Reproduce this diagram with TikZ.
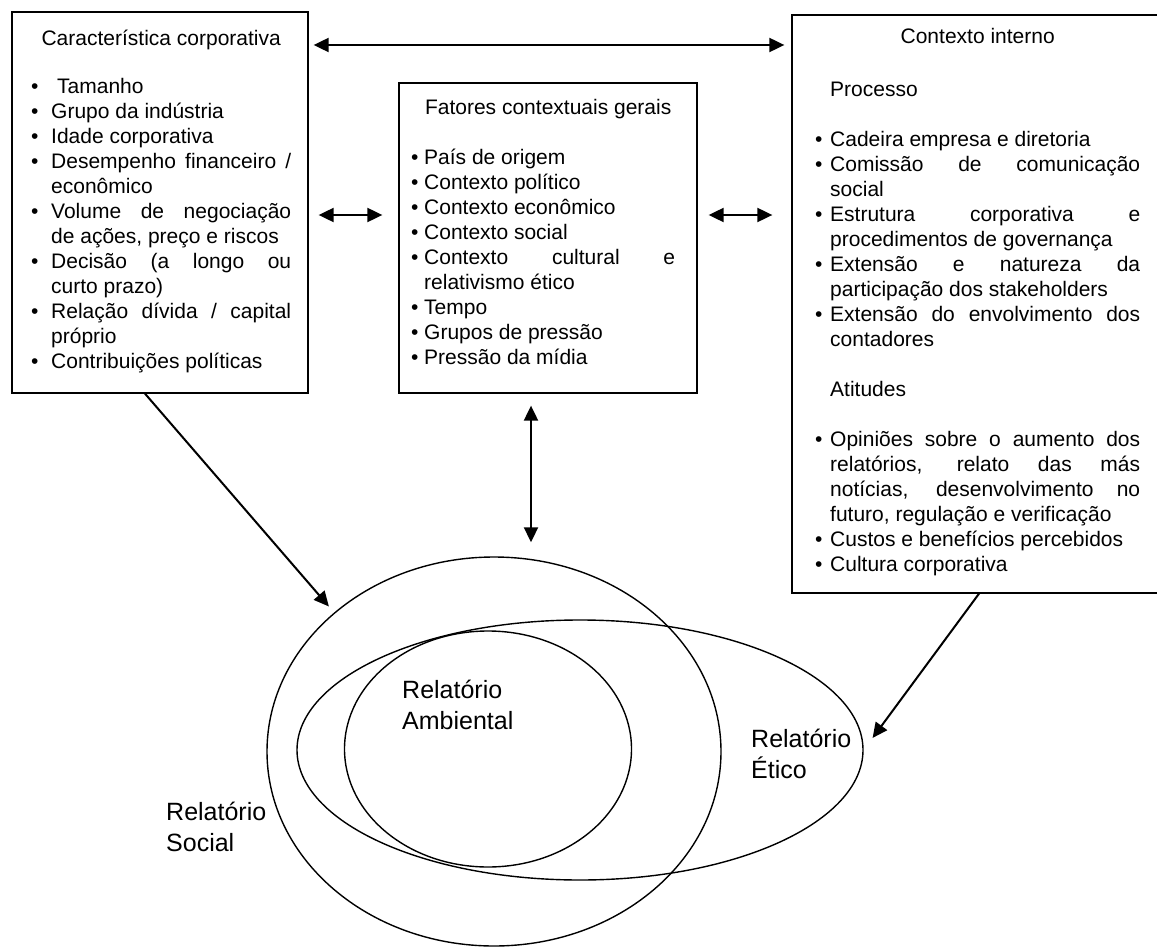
\documentclass[tikz,border=0pt]{standalone}
\usepackage{fontspec}
\setmainfont{Liberation Sans}
\usetikzlibrary{arrows.meta,shapes.geometric}
\newlength\bind
\newlength\tw
\newcommand\bu{\makebox[\bind][l]{\textbullet}}
\newcommand\ct{\hspace*{\bind}}
\newcommand\js[1]{{\spaceskip=0pt\xspaceskip=0pt\makebox[\tw][s]{#1}}}
\begin{document}
\begin{tikzpicture}[x=1pt,y=-1pt,
  box/.style={draw, line width=1.3pt, rectangle, inner sep=0},
  txt/.style={inner sep=0, anchor=base west, align=justify, font=\fontsize{21}{25}\selectfont},
  big/.style={inner sep=0, anchor=base west, text width=140, font=\fontsize{25}{31}\selectfont},
  ell/.style={draw, ellipse, line width=1.4pt, inner sep=0},
  arr/.style={line width=2pt, -{Triangle[length=15pt,width=14pt]}},
  dbl/.style={line width=2pt, {Triangle[length=15pt,width=14pt]}-{Triangle[length=15pt,width=14pt]}}]
\useasboundingbox (0,0) rectangle (1157,947);

% boxes
\node[box, minimum width=296, minimum height=381] (cc) at (160,202.5) {};
\node[box, minimum width=298, minimum height=310] (fg) at (548,238) {};
\node[box, minimum width=372, minimum height=578] (ci) at (978,304) {};

% ellipses
\node[ell, minimum width=454, minimum height=389] (rs) at (494,751.5) {};
\node[ell, minimum width=566, minimum height=260] (et) at (580,750) {};
\node[ell, minimum width=287, minimum height=236] (ra) at (488,749) {};

% box texts
\node[txt, text width=260] (cct) at (31,46) {\setlength{\bind}{20pt}\setlength{\tw}{240pt}%
\makebox[\linewidth]{Característica corporativa}\\[23pt]
\bu\hspace{6pt}Tamanho\\
\bu Grupo da indústria\\
\bu Idade corporativa\\
\bu\js{Desempenho financeiro /}\\
\ct econômico\\
\bu\js{Volume de negociação}\\
\ct de ações, preço e riscos\\
\bu\js{Decisão (a longo ou}\\
\ct curto prazo)\\
\bu\js{Relação dívida / capital}\\
\ct próprio\\
\bu Contribuições políticas};

\node[txt, text width=264] (fgt) at (411,115) {\setlength{\bind}{13pt}\setlength{\tw}{251pt}%
\makebox[\linewidth]{\hspace{10pt}Fatores contextuais gerais}\\[25pt]
\bu País de origem\\
\bu Contexto político\\
\bu Contexto econômico\\
\bu Contexto social\\
\bu\js{Contexto cultural e}\\
\ct relativismo ético\\
\bu Tempo\\
\bu Grupos de pressão\\
\bu Pressão da mídia};

\node[txt, text width=325] (cit) at (815,44) {\setlength{\bind}{15pt}\setlength{\tw}{310pt}%
\makebox[\linewidth]{Contexto interno}\\[28pt]
\ct Processo\\[25pt]
\bu Cadeira empresa e diretoria\\
\bu\js{Comissão de comunicação}\\
\ct social\\
\bu\js{Estrutura corporativa e}\\
\ct procedimentos de governança\\
\bu\js{Extensão e natureza da}\\
\ct participação dos stakeholders\\
\bu\js{Extensão do envolvimento dos}\\
\ct contadores\\[25pt]
\ct Atitudes\\[25pt]
\bu\js{Opiniões sobre o aumento dos}\\
\ct\js{relatórios, relato das más}\\
\ct\js{notícias, desenvolvimento no}\\
\ct futuro, regulação e verificação\\
\bu Custos e benefícios percebidos\\
\bu Cultura corporativa};

% ellipse labels
\node[big] (lra) at (402,698) {Relatório\\Ambiental};
\node[big] (let) at (751,747) {Relatório\\Ético};
\node[big] (lrs) at (166,820) {Relatório\\Social};

% connectors
\draw[dbl, shorten <=5pt, shorten >=7pt] (cc.east |- 0,45) -- (ci.west |- 0,45);
\draw[dbl, shorten <=10pt, shorten >=16pt] (cc.east |- 0,215) -- (fg.west |- 0,215);
\draw[dbl, shorten <=11pt, shorten >=19pt] (fg.east |- 0,215) -- (ci.west |- 0,215);
\draw[dbl, shorten <=12pt, shorten >=14pt] (fg.south -| 531,0) -- (rs.north -| 531,0);
\draw[arr, shorten >=8pt] (cc.south -| 145,0) -- (rs.139);
\draw[arr, shorten >=15pt] (ci.south -| 979,0) -- (et.east);
\end{tikzpicture}
\end{document}
